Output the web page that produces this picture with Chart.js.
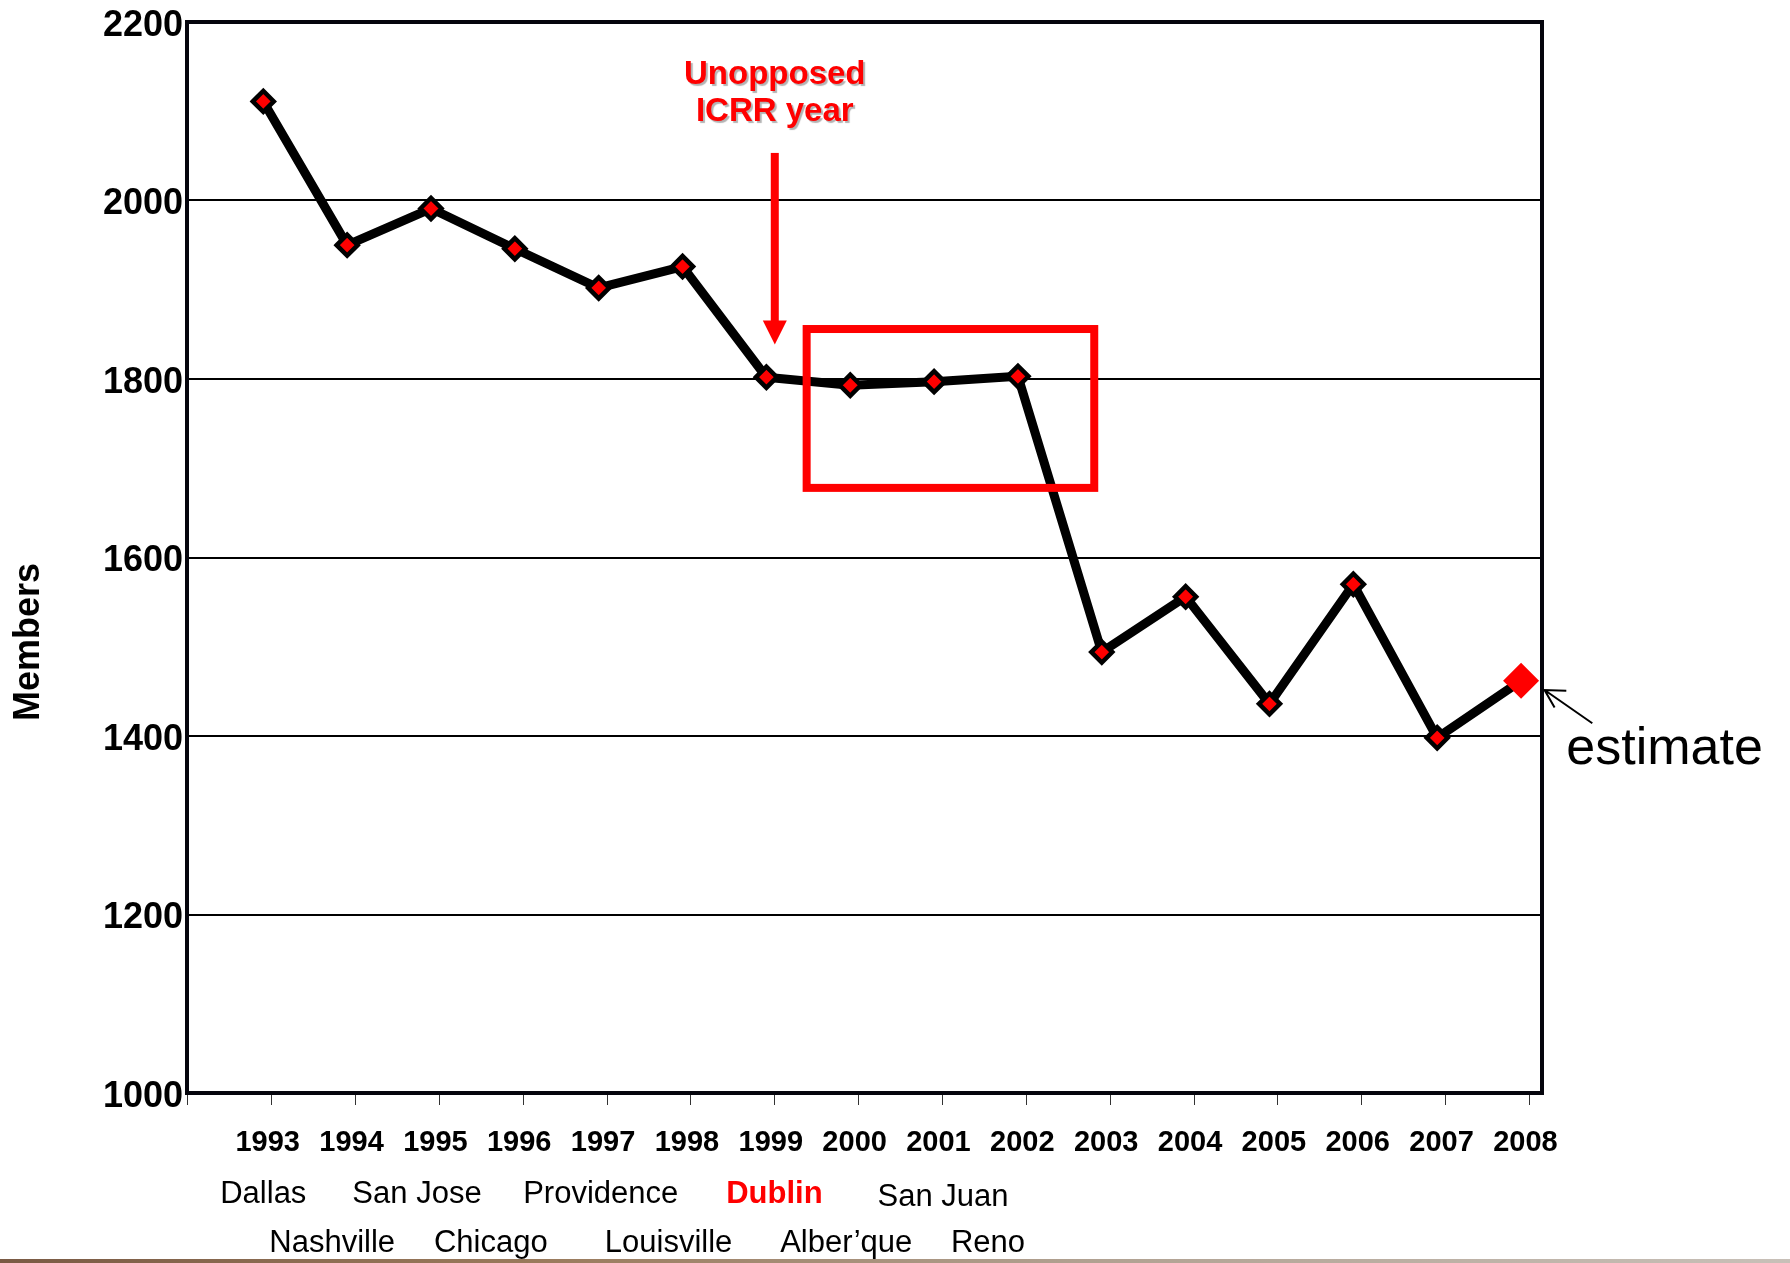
<!DOCTYPE html>
<html><head><meta charset="utf-8">
<script src="https://cdn.jsdelivr.net/npm/chart.js@4.4.0/dist/chart.umd.min.js"></script>
<style>
html,body{margin:0;padding:0;background:#fff;}
#wrap{position:relative;width:1790px;height:1263px;overflow:hidden;}
#strip{position:absolute;left:0;bottom:0;width:1790px;height:4px;background:linear-gradient(90deg,#7a5a44,#9a7a5c 30%,#b0a090 60%,#c8c0b8);}
</style></head><body>
<div id="wrap"><canvas id="c" width="1790" height="1263"></canvas><div id="strip"></div></div>
<script>
// ---- data ----
const years   = [1993,1994,1995,1996,1997,1998,1999,2000,2001,2002,2003,2004,2005,2006,2007,2008];
const members = [2111,1950,1991,1946,1902,1926,1802,1793,1797,1803,1494,1556,1436,1570,1398,1462];
const yTickValues = [1000,1200,1400,1600,1800,2000,2200];
const cityRow1 = ['Dallas','San Jose','Providence','Dublin','San Juan'];
const cityRow1Years = [1993,1995,1997,1999,2001];
const cityRow2 = ['Nashville','Chicago','Louisville','Alber\u2019que','Reno'];
const cityRow2Years = [1994,1996,1998,2000,2002];
const highlightCity = 'Dublin';
const noteLines = ['Unopposed','ICRR year'];
const estimateLabel = 'estimate';
const yTitle = 'Members';

// ---- layout (pixel offsets / styling only) ----
const cityRow1Offsets = [0,-14,2,8,9];
const cityRow2Offsets = [-15,-24,-14,-4,-30];
const FONT = '"Liberation Sans", Arial, sans-serif';

const points = years.map((y,i)=>({x:y, y:members[i]}));
const lastIdx = years.length-1;

const annot = {
  id:'annot',
  beforeDatasetsDraw(chart){
    const {ctx, chartArea:a} = chart;
    ctx.save();
    ctx.strokeStyle = '#05050d';
    ctx.lineWidth = 4;
    ctx.strokeRect(a.left, a.top, a.right-a.left, a.bottom-a.top);
    ctx.restore();
  },
  afterDatasetsDraw(chart){
    const {ctx} = chart;
    const xs = chart.scales.x, ys = chart.scales.y;
    const X = v=>xs.getPixelForValue(v), Y = v=>ys.getPixelForValue(v);
    ctx.save();
    // red highlight box
    ctx.strokeStyle = '#ff0000';
    ctx.lineWidth = 8;
    const x0 = X(1999.48), x1 = X(2002.91), y0 = Y(1856), y1 = Y(1678);
    ctx.strokeRect(x0, y0, x1-x0, y1-y0);
    // red arrow
    const ax = X(1999.1);
    ctx.fillStyle = '#ff0000';
    ctx.fillRect(ax-4, Y(2053.3), 8, Y(1865.5)-Y(2053.3)+1);
    ctx.beginPath();
    ctx.moveTo(ax-12, Y(1865.5));
    ctx.lineTo(ax+12, Y(1865.5));
    ctx.lineTo(ax, Y(1838.7));
    ctx.closePath();
    ctx.fill();
    // note text
    ctx.font = 'bold 33px ' + FONT;
    ctx.textAlign = 'center';
    ctx.textBaseline = 'alphabetic';
    ctx.shadowColor = 'rgba(0,0,0,0.3)';
    ctx.shadowOffsetX = 2; ctx.shadowOffsetY = 2; ctx.shadowBlur = 1;
    ctx.fillStyle = '#ff0000';
    ctx.fillText(noteLines[0], ax, Y(2130));
    ctx.fillText(noteLines[1], ax, Y(2089));
    ctx.restore();

    ctx.save();
    // estimate arrow
    ctx.strokeStyle = '#000';
    ctx.lineWidth = 2;
    ctx.beginPath();
    ctx.moveTo(X(2008.85), Y(1414.3));
    ctx.lineTo(X(2008.28), Y(1451.6));
    ctx.moveTo(X(2008.54), Y(1450.8));
    ctx.lineTo(X(2008.28), Y(1451.6));
    ctx.lineTo(X(2008.40), Y(1431.8));
    ctx.stroke();
    ctx.fillStyle = '#000';
    ctx.font = '52px ' + FONT;
    ctx.textAlign = 'left';
    ctx.fillText(estimateLabel, X(2008.54), Y(1368.7));

    // y title
    ctx.save();
    ctx.translate(29, 642);
    ctx.rotate(-Math.PI/2);
    ctx.font = 'bold 36px ' + FONT;
    ctx.textAlign = 'center';
    ctx.textBaseline = 'middle';
    ctx.fillText(yTitle, 0, 0);
    ctx.restore();

    // city labels
    ctx.textAlign = 'center';
    ctx.textBaseline = 'alphabetic';
    cityRow1.forEach((c,i)=>{
      const hl = c===highlightCity;
      ctx.font = (hl?'bold ':'') + '31px ' + FONT;
      ctx.fillStyle = hl ? '#ff0000' : '#000';
      ctx.fillText(c, X(cityRow1Years[i]) + cityRow1Offsets[i], c==='San Juan'?1206:1203);
    });
    cityRow2.forEach((c,i)=>{
      ctx.font = '31px ' + FONT;
      ctx.fillStyle = '#000';
      ctx.fillText(c, X(cityRow2Years[i]) + cityRow2Offsets[i], 1252);
    });
    ctx.restore();
  }
};

new Chart(document.getElementById('c').getContext('2d'), {
  type:'line',
  data:{datasets:[{
    data: points,
    borderColor:'#000',
    borderWidth:9,
    borderJoinStyle:'round',
    tension:0,
    pointStyle:'rectRot',
    pointRadius: c => c.dataIndex===lastIdx ? 18 : 10.5,
    pointBackgroundColor:'#ff0000',
    pointBorderColor: c => c.dataIndex===lastIdx ? '#ff0000' : '#000',
    pointBorderWidth: c => c.dataIndex===lastIdx ? 0 : 4.5,
    clip:false
  }]},
  options:{
    responsive:false, animation:false, events:[],
    plugins:{legend:{display:false}, tooltip:{enabled:false}},
    layout:{padding:{top:19, right:248, left:0, bottom:0}},
    scales:{
      x:{
        type:'linear', min:1992.09, max:2008.25,
        afterBuildTicks: s => { s.ticks = [years[0]-0.9].concat(years.map(y=>y+0.1)).map(v=>({value:v})); },
        afterFit: s => { s.height = 170; },
        border:{display:false},
        grid:{display:true, drawOnChartArea:false, drawTicks:true, tickLength:12, color:'#333', lineWidth:1},
        ticks:{
          autoSkip:false, maxRotation:0, padding:21, labelOffset:-4, color:'#000',
          font:{family:FONT, size:29, weight:'bold'},
          callback: v => v < years[0] ? '' : String(Math.floor(v+1e-6))
        }
      },
      y:{
        min:1000, max:2200,
        afterBuildTicks: s => { s.ticks = yTickValues.map(v=>({value:v})); },
        afterFit: s => { s.width = 187; },
        border:{display:false},
        grid:{color:'#000', lineWidth:2, drawTicks:false},
        ticks:{padding:4, labelOffset:4, color:'#000', font:{family:FONT, size:36, weight:'bold', lineHeight:1}, callback: v => String(v)}
      }
    }
  },
  plugins:[annot]
});
</script>
</body></html>
